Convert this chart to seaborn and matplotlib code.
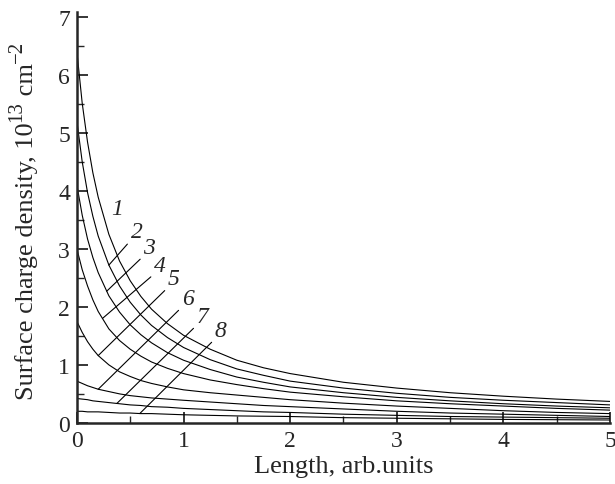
import numpy as np
import pandas as pd
import matplotlib
matplotlib.use("Agg")
import matplotlib.pyplot as plt
import seaborn as sns

# values
length = [0, 0.05, 0.1, 0.15, 0.2, 0.3, 0.4, 0.5, 0.6, 0.7, 0.85, 1.0,
          1.25, 1.5, 1.75, 2.0, 2.5, 3.0, 3.5, 4.0, 4.5, 5.0]
curve_1 = [6.40, 5.51, 4.84, 4.31, 3.89, 3.25, 2.79, 2.45, 2.18, 1.96, 1.71, 1.51,
           1.27, 1.08, 0.95, 0.85, 0.70, 0.60, 0.52, 0.46, 0.41, 0.37]
curve_2 = [5.20, 4.50, 3.97, 3.56, 3.22, 2.72, 2.36, 2.08, 1.86, 1.68, 1.47, 1.30,
           1.09, 0.93, 0.82, 0.72, 0.60, 0.51, 0.44, 0.39, 0.35, 0.31]
curve_3 = [4.10, 3.58, 3.17, 2.85, 2.59, 2.19, 1.91, 1.69, 1.52, 1.38, 1.21, 1.08,
           0.92, 0.79, 0.70, 0.62, 0.52, 0.44, 0.38, 0.33, 0.29, 0.26]
curve_4 = [3.00, 2.64, 2.36, 2.12, 1.92, 1.62, 1.42, 1.27, 1.15, 1.05, 0.94, 0.85,
           0.74, 0.66, 0.59, 0.53, 0.45, 0.38, 0.33, 0.29, 0.25, 0.22]
curve_5 = [1.75, 1.56, 1.40, 1.27, 1.16, 1.00, 0.88, 0.80, 0.73, 0.68, 0.62, 0.57,
           0.52, 0.48, 0.44, 0.40, 0.34, 0.29, 0.25, 0.21, 0.18, 0.16]
curve_6 = [0.72, 0.68, 0.64, 0.61, 0.58, 0.54, 0.50, 0.47, 0.45, 0.43, 0.41, 0.39,
           0.36, 0.33, 0.30, 0.28, 0.24, 0.20, 0.17, 0.15, 0.13, 0.11]
curve_7 = [0.42, 0.41, 0.40, 0.38, 0.37, 0.35, 0.33, 0.31, 0.30, 0.28, 0.27, 0.25,
           0.23, 0.21, 0.19, 0.18, 0.15, 0.13, 0.11, 0.10, 0.09, 0.08]
curve_8 = [0.20, 0.20, 0.19, 0.19, 0.19, 0.18, 0.17, 0.17, 0.16, 0.16, 0.15, 0.14,
           0.13, 0.12, 0.115, 0.11, 0.09, 0.08, 0.07, 0.06, 0.055, 0.05]
curves = [curve_1, curve_2, curve_3, curve_4, curve_5, curve_6, curve_7, curve_8]
curve_names = ["1", "2", "3", "4", "5", "6", "7", "8"]

# label placement (data coords) and where each leader touches its curve
label_x = [0.38, 0.56, 0.68, 0.78, 0.91, 1.04, 1.18, 1.35]
label_y = [3.69, 3.29, 3.02, 2.71, 2.48, 2.14, 1.83, 1.59]
leader_x = [None, 0.30, 0.28, 0.24, 0.20, 0.20, 0.375, 0.59]

rows = []
for name, vals in zip(curve_names, curves):
    for x, y in zip(length, vals):
        rows.append({"length": x, "density": y, "curve": name})
df = pd.DataFrame(rows)

sns.set_theme(style="ticks")
plt.rcParams["font.family"] = ["Liberation Serif", "DejaVu Serif"]

fig = plt.figure(figsize=(6.15, 4.85), dpi=100)
ax = fig.add_axes([0.125, 0.126, 0.867, 0.847])

sns.lineplot(data=df, x="length", y="density", hue="curve",
             palette=["black"] * len(curve_names), linewidth=0.8,
             legend=False, ax=ax)

for name, vals, tx, ty, lx in zip(curve_names, curves, label_x, label_y, leader_x):
    if lx is None:
        ax.text(tx, ty, name, fontsize=17, fontstyle="italic",
                ha="center", va="center")
    else:
        ax.annotate(name, xy=(lx, np.interp(lx, length, vals)), xytext=(tx, ty),
                    fontsize=17, fontstyle="italic", ha="center", va="center",
                    arrowprops=dict(arrowstyle="-", lw=0.8, color="black",
                                    shrinkA=0, shrinkB=0, relpos=(0.0, 0.1)))

ax.set_xlim(0, 5)
ax.set_ylim(0, 7.08)
ax.set_xticks(range(0, 6))
ax.set_yticks(range(0, 8))
ax.set_xticks(np.arange(0.5, 5, 1.0), minor=True)
ax.set_yticks(np.arange(0.5, 7, 1.0), minor=True)
ax.tick_params(which="major", direction="in", length=8, width=1.3, labelsize=17, pad=5)
ax.tick_params(which="minor", direction="in", length=5, width=1.0)
sns.despine(ax=ax)
for s in ["left", "bottom"]:
    ax.spines[s].set_linewidth(1.8)

ax.set_xlabel("Length, arb.units", fontsize=19, labelpad=3)
ax.set_ylabel("")

# y label built piece by piece so the exponents keep a large size
renderer = fig.canvas.get_renderer()
pieces = [("Surface charge density, 10", 19, 0.054),
          ("13", 15, 0.035),
          (" cm", 19, 0.054),
          ("\u22122", 15, 0.035)]
ypos = 0.175
for txt, size, xb in pieces:
    t = fig.text(xb, ypos, txt, rotation=90, rotation_mode="anchor",
                 ha="left", va="baseline", fontsize=size)
    bb = t.get_window_extent(renderer)
    ypos = bb.y1 / fig.bbox.height

fig.savefig("out.png", dpi=100)
